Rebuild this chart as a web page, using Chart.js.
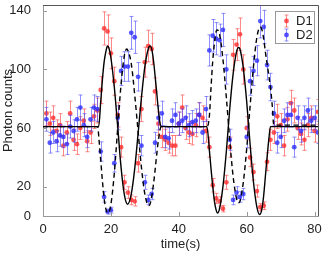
<!DOCTYPE html>
<html>
<head>
<meta charset="utf-8">
<script src="https://cdn.jsdelivr.net/npm/chart.js@4/dist/chart.umd.min.js"></script>
<style>
  html, body { margin: 0; padding: 0; background: #fff; }
  canvas { display: block; }
</style>
</head>
<body>
<canvas id="grafico" width="336" height="256"></canvas>
<script>
// tiempos de medida (s)
const tiempos = [1,2,3,4,5,6,7,8,9,10,11,12,13,14,15,16,17,18,19,20,
  21,22,23,24,25,26,27,28,29,30,31,32,33,34,35,36,37,38,39,40,
  41,42,43,44,45,46,47,48,49,50,51,52,53,54,55,56,57,58,59,60,
  61,62,63,64,65,66,67,68,69,70,71,72,73,74,75,76,77,78,79,80,81];

// cuentas de fotones de cada detector
const d1 = [70,63,67,58,62,48,57,70,52,49,60,65,51,57,68,72,86,128,126,111,
  92,69,47,23,16,11,10,36,73,105,116,114,85,63,54,52,50,48,48,63,
  74,60,57,56,62,69,67,58,47,21,12,10,5,23,47,110,117,124,100,60,
  40,30,17,6,7,37,52,57,68,62,48,66,77,72,60,56,52,62,67,58,71];
const d2 = [66,50,57,51,55,54,49,61,58,66,74,62,54,66,74,73,44,13,3,4,
  36,67,99,102,102,125,122,95,48,23,11,15,50,67,70,54,53,65,69,63,
  65,67,62,64,65,69,57,73,113,123,121,120,127,100,52,11,16,13,15,54,
  92,99,106,133,129,103,88,70,50,54,65,69,69,47,67,58,67,72,65,67,57];

// curva de ajuste D1 (linea continua)
const ajuste1T = [0,16.4,17,17.5,18,18.5,19,19.5,20,21,22,23,24,24.9,26,27,28,29,30,31,31.6,
  32,32.5,33,33.5,34,34.5,34.9,48.3,49,49.5,50,50.5,51,51.4,52,53,54,55,56,57,57.6,
  58,59,60,61,62,63,63.8,64.5,65,65.5,66,66.5,67,81];
const ajuste1V = [61,61,78,93,105,112,116,114,108,88,61,33,14,8,15,32,56,81,102,114,116,
  114,107,96,84,72,63,61,61,45,32,20,10,4,2,5,20,44,73,97,112,115,
  114,101,78,49,23,6,1,5,14,27,40,52,61,61];

// curva de ajuste D2 (linea discontinua)
const ajuste2T = [0,16.1,16.5,17,17.5,18,18.5,19.2,20,21,22,23,24,24.7,25,26,27,28,29,30,31.1,
  31.5,32,32.5,33,33.5,34,34.8,48.3,49,49.5,50,50.5,51,51.3,52,53,54,55,56,57,57.6,
  58,59,60,61,62,63,64,64.5,65,65.5,66,66.5,67,67.5,68,81];
const ajuste2V = [61,61,52,38,24,12,5,2,8,29,60,90,110,114,113,104,83,58,33,15,7,
  8,13,21,31,42,52,61,61,68,88,106,118,126,127,124,107,81,52,27,12,9,
  10,23,46,75,102,122,129,127,121,112,104,96,88,76,62,62];

const ticksX = [0, 20, 40, 60, 80];
const ticksY = [0, 20, 60, 100, 140];

const fuente = { family: 'Liberation Sans', size: 13 };

function puntos(xs, ys) {
    return xs.map((x, i) => ({ x: x, y: ys[i] }));
}

// barras de error (poissonianas: sqrt(N)) debajo de cada serie
const barrasError = {
    id: 'barrasError',
    beforeDatasetDraw(chart, args) {
        const ds = chart.data.datasets[args.index];
        if (!ds.colorError) return;
        const { ctx, chartArea, scales } = chart;
        ctx.save();
        ctx.beginPath();
        ctx.rect(chartArea.left, chartArea.top, chartArea.width, chartArea.height);
        ctx.clip();
        ctx.strokeStyle = ds.colorError;
        ctx.lineWidth = 1;
        ds.data.forEach(p => {
            const e = Math.sqrt(p.y);
            const px = Math.round(scales.x.getPixelForValue(p.x)) + 0.5;
            const y1 = scales.y.getPixelForValue(p.y - e);
            const y2 = scales.y.getPixelForValue(p.y + e);
            ctx.beginPath();
            ctx.moveTo(px, y1); ctx.lineTo(px, y2);
            ctx.moveTo(px - 2, y1); ctx.lineTo(px + 2, y1);
            ctx.moveTo(px - 2, y2); ctx.lineTo(px + 2, y2);
            ctx.stroke();
        });
        ctx.restore();
    }
};

// marco, marcas interiores y leyenda
const marco = {
    id: 'marco',
    afterDraw(chart) {
        const { ctx, chartArea: a, scales } = chart;
        ctx.save();
        ctx.strokeStyle = '#555';
        ctx.lineWidth = 1;
        ctx.beginPath();
        ctx.moveTo(a.left, a.top + 0.5); ctx.lineTo(a.right + 0.5, a.top + 0.5);
        ctx.lineTo(a.right + 0.5, a.bottom);
        ctx.stroke();

        ctx.strokeStyle = '#999';
        ctx.beginPath();
        ticksX.forEach(v => {
            const px = Math.round(scales.x.getPixelForValue(v)) + 0.5;
            ctx.moveTo(px, a.bottom); ctx.lineTo(px, a.bottom - 4);
        });
        ticksY.forEach(v => {
            const py = Math.round(scales.y.getPixelForValue(v)) + 0.5;
            ctx.moveTo(a.left, py); ctx.lineTo(a.left + 4, py);
        });
        ctx.stroke();

        // leyenda
        const lx = 275.5, ly = 11.5, lw = 39, lh = 32;
        ctx.fillStyle = '#fff';
        ctx.fillRect(lx, ly, lw, lh);
        ctx.strokeStyle = '#999';
        ctx.strokeRect(lx, ly, lw, lh);
        const series = chart.data.datasets.filter(d => d.colorError);
        series.forEach((ds, i) => {
            const cy = 21 + i * 14;
            const cx = 286.5;
            ctx.strokeStyle = ds.colorError;
            ctx.beginPath();
            ctx.moveTo(cx, cy - 6); ctx.lineTo(cx, cy + 6);
            ctx.moveTo(cx - 2, cy - 6); ctx.lineTo(cx + 2, cy - 6);
            ctx.moveTo(cx - 2, cy + 6); ctx.lineTo(cx + 2, cy + 6);
            ctx.stroke();
            ctx.fillStyle = ds.backgroundColor;
            ctx.beginPath();
            ctx.arc(cx, cy, 2.4, 0, Math.PI * 2);
            ctx.fill();
            ctx.fillStyle = '#222';
            ctx.font = '13px "Liberation Sans"';
            ctx.textBaseline = 'middle';
            ctx.fillText(ds.label, 296, cy + 0.5);
        });
        ctx.restore();
    }
};

const ctx = document.getElementById('grafico').getContext('2d');
new Chart(ctx, {
    type: 'scatter',
    data: {
        datasets: [
            {
                type: 'line', label: 'ajuste D1', data: puntos(ajuste1T, ajuste1V),
                borderColor: '#000', borderWidth: 1.4, pointRadius: 0,
                cubicInterpolationMode: 'monotone', order: 0
            },
            {
                type: 'line', label: 'ajuste D2', data: puntos(ajuste2T, ajuste2V),
                borderColor: '#000', borderWidth: 1.4, borderDash: [5, 3.5], pointRadius: 0,
                cubicInterpolationMode: 'monotone', order: 0
            },
            {
                label: 'D1', data: puntos(tiempos, d1),
                backgroundColor: 'rgba(255,45,45,0.8)', colorError: 'rgba(255,60,60,0.6)',
                pointRadius: 2.4, borderWidth: 0, order: 2
            },
            {
                label: 'D2', data: puntos(tiempos, d2),
                backgroundColor: 'rgba(45,45,255,0.8)', colorError: 'rgba(70,70,255,0.6)',
                pointRadius: 2.4, borderWidth: 0, order: 1
            }
        ]
    },
    options: {
        responsive: false,
        animation: false,
        layout: { padding: { top: 5, right: 18, left: 0, bottom: 0 } },
        plugins: {
            legend: { display: false },
            tooltip: { enabled: false }
        },
        scales: {
            x: {
                type: 'linear', min: 0, max: 81,
                afterBuildTicks: s => { s.ticks = ticksX.map(v => ({ value: v })); },
                afterFit: s => { s.height = 40; s.paddingLeft = 0; s.paddingRight = 0; },
                grid: { display: false, drawTicks: false },
                border: { display: true, color: '#999', width: 1 },
                ticks: { color: '#222', font: fuente, padding: 6, maxRotation: 0 },
                title: { display: true, text: 'time(s)', color: '#222', font: fuente, padding: { top: 0, bottom: 4 } }
            },
            y: {
                type: 'linear', min: 0, max: 144,
                afterBuildTicks: s => { s.ticks = ticksY.map(v => ({ value: v })); },
                afterFit: s => { s.width = 43; s.paddingTop = 0; s.paddingBottom = 0; },
                grid: { display: false, drawTicks: false },
                border: { display: true, color: '#999', width: 1 },
                ticks: { color: '#222', font: fuente, padding: 12 },
                title: { display: true, text: 'Photon counts', color: '#222', font: fuente, padding: { top: 1, bottom: 0 } }
            }
        }
    },
    plugins: [barrasError, marco]
});
</script>
</body>
</html>
